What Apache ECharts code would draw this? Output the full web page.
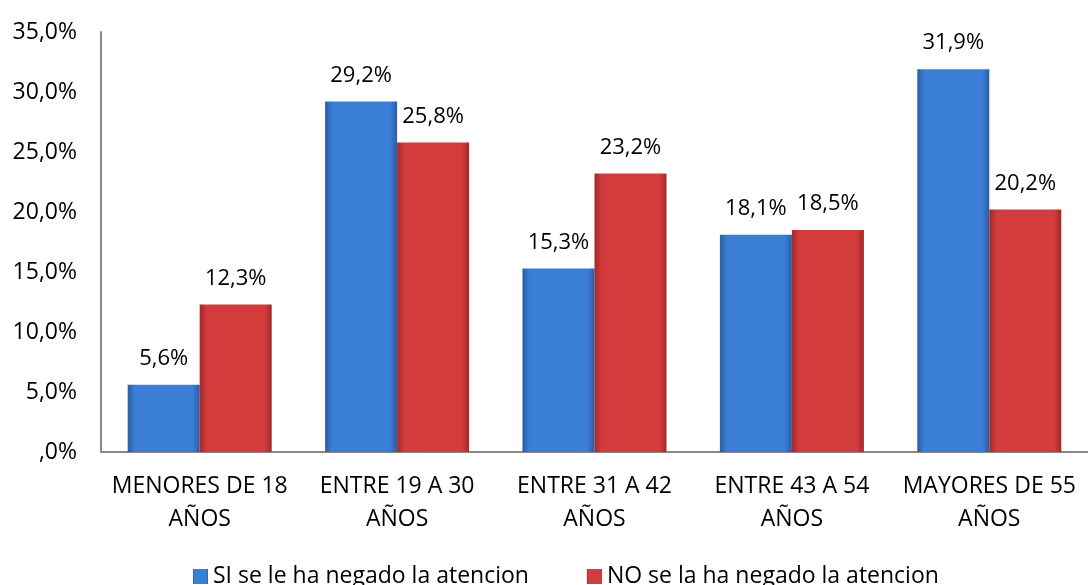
<!DOCTYPE html>
<html>
<head>
<meta charset="utf-8">
<script src="https://cdn.jsdelivr.net/npm/echarts@6/dist/echarts.min.js"></script>
<style>html,body{margin:0;padding:0;background:#fff}#c{width:1088px;height:585px}</style>
</head>
<body>
<div id="c"></div>
<script>
var categories = ['MENORES DE 18\nAÑOS', 'ENTRE 19 A 30\nAÑOS', 'ENTRE 31 A 42\nAÑOS', 'ENTRE 43 A 54\nAÑOS', 'MAYORES DE 55\nAÑOS'];
var siValues = [5.6, 29.2, 15.3, 18.1, 31.9];
var noValues = [12.3, 25.8, 23.2, 18.5, 20.2];
var yTickLabels = [',0%', '5,0%', '10,0%', '15,0%', '20,0%', '25,0%', '30,0%', '35,0%'];
var seriesNames = ['SI se le ha negado la atencion', 'NO se la ha negado la atencion'];

var FONT = 'Open Sans';
function grad(dark, light) {
  return new echarts.graphic.LinearGradient(0, 0, 1, 0, [
    {offset: 0, color: dark}, {offset: 0.1, color: light}, {offset: 0.5, color: light},
    {offset: 0.9, color: light}, {offset: 1, color: dark}
  ]);
}
function fmt(v) { return v.toFixed(1).replace('.', ',') + '%'; }
var chart = echarts.init(document.getElementById('c'));
chart.setOption({
  animation: false,
  textStyle: {fontFamily: FONT},
  grid: {left: 101, top: 32, width: 1000, height: 420, containLabel: false},
  legend: {
    top: 560, left: 188, itemGap: 58, itemWidth: 15, itemHeight: 15, icon: 'rect',
    textStyle: {fontFamily: FONT, fontSize: 23, color: '#000'},
    data: seriesNames
  },
  xAxis: {
    type: 'category', data: categories,
    axisLine: {lineStyle: {color: '#888', width: 2}},
    axisTick: {show: false},
    axisLabel: {fontFamily: FONT, fontSize: 23, color: '#000', lineHeight: 33, margin: 18, interval: 0}
  },
  yAxis: {
    type: 'value', min: 0, max: 35, interval: 5,
    axisLine: {show: true, lineStyle: {color: '#888', width: 2}},
    axisTick: {show: false},
    splitLine: {show: false},
    axisLabel: {fontFamily: FONT, fontSize: 23, color: '#000', margin: 24,
      formatter: function (v) { return yTickLabels[Math.round(v / 5)]; }}
  },
  series: [
    {name: seriesNames[0], type: 'bar', data: siValues, barWidth: 72, barGap: '0%',
      itemStyle: {color: grad('#2a5da3', '#3b7ed6')},
      label: {show: true, position: 'top', distance: 15, fontFamily: FONT, fontSize: 22, color: '#000',
        formatter: function (p) { return fmt(p.value); }}},
    {name: seriesNames[1], type: 'bar', data: noValues, barWidth: 72,
      itemStyle: {color: grad('#a42828', '#d23c3c')},
      label: {show: true, position: 'top', distance: 15, fontFamily: FONT, fontSize: 22, color: '#000',
        formatter: function (p) { return fmt(p.value); }}}
  ]
});
</script>
</body>
</html>
